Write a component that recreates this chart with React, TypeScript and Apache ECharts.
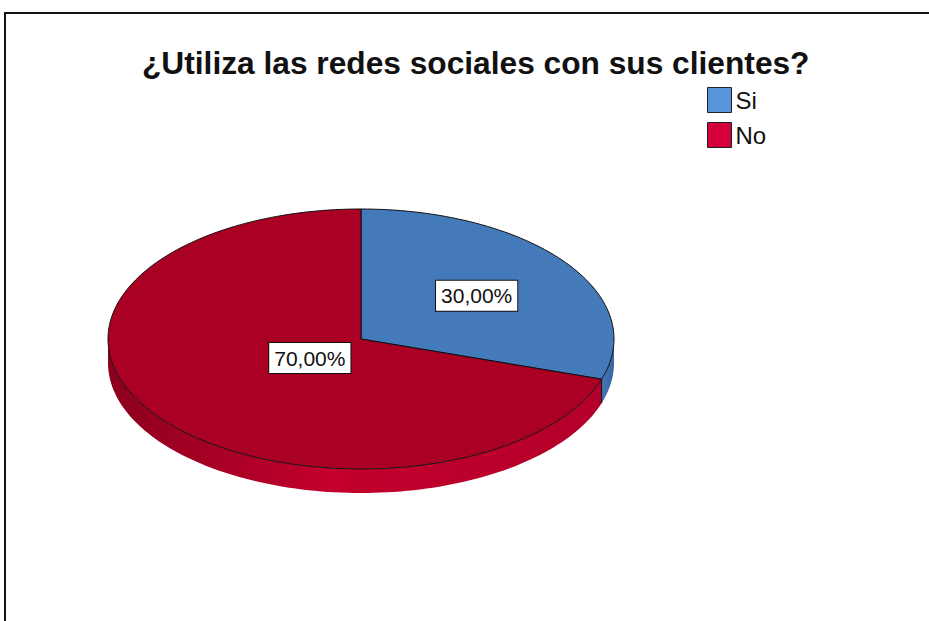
import React, { useEffect, useRef } from "react";
import * as echarts from "echarts";

const TITLE = "¿Utiliza las redes sociales con sus clientes?";
const CATEGORIES = ["Si", "No"];
const VALUES = [30, 70];
const TOP_COLORS = ["#4479ba", "#a90024"];
const LEGEND_COLORS = ["#5894dc", "#d3003a"];
const LABEL_FRAC = [0.565, 0.25];

const PIE = { cx: 361, cy: 339, rx: 253, ry: 130, depth: 24 };
const FONT = '"Liberation Sans", Arial, sans-serif';

function fmtPct(v: number, total: number) {
  return (v / total * 100).toFixed(2).replace(".", ",") + "%";
}

export default function App() {
  const ref = useRef<HTMLDivElement>(null);
  useEffect(() => {
    if (!ref.current) return;
    const chart = echarts.init(ref.current, null, { renderer: "svg" });
    const total = VALUES.reduce((a, b) => a + b, 0);
    const starts: number[] = [];
    let acc = 0;
    VALUES.forEach((v) => { starts.push(acc); acc += v; });

    const pt = (a: number, dy: number) => [
      PIE.cx + PIE.rx * Math.sin(a),
      PIE.cy - PIE.ry * Math.cos(a) + dy,
    ];
    const arc = (a0: number, a1: number, dy: number) => {
      const n = Math.max(2, Math.ceil(((a1 - a0) / (2 * Math.PI)) * 240));
      const out: number[][] = [];
      for (let i = 0; i <= n; i++) out.push(pt(a0 + ((a1 - a0) * i) / n, dy));
      return out;
    };

    const makeRender = (si: number) => (params: any, api: any) => {
      const v = api.value(0);
      const s = api.value(1);
      const a0 = (s / total) * 2 * Math.PI;
      const a1 = ((s + v) / total) * 2 * Math.PI;
      const children: any[] = [];
      const b0 = Math.max(a0, Math.PI / 2);
      const b1 = Math.min(a1, (3 * Math.PI) / 2);
      if (b1 > b0) {
        const top = arc(b0, b1, 0);
        const bot = arc(b0, b1, PIE.depth).reverse();
        const fill =
          si === 1
            ? new echarts.graphic.LinearGradient(0, 0, 1, 0, [
                { offset: 0, color: "#8c001d" },
                { offset: 0.45, color: "#c4002d" },
                { offset: 1, color: "#b3002a" },
              ])
            : new echarts.graphic.LinearGradient(0, 0, 1, 0, [
                { offset: 0, color: "#4677b5" },
                { offset: 1, color: "#3764a0" },
              ]);
        children.push({
          type: "polygon",
          z2: 1,
          shape: { points: top.concat(bot) },
          style: { fill, stroke: null },
        });
      }
      const topPts = [[PIE.cx, PIE.cy]].concat(arc(a0, a1, 0));
      children.push({
        type: "polygon",
        z2: 2,
        shape: { points: topPts },
        style: { fill: TOP_COLORS[si], stroke: "#111", lineWidth: 1 },
      });
      if (a1 < Math.PI * 1.5 && a1 > Math.PI / 2) {
        const p = pt(a1, 0);
        children.push({
          type: "line",
          z2: 3,
          shape: { x1: p[0], y1: p[1], x2: p[0], y2: p[1] + PIE.depth },
          style: { stroke: "#111", lineWidth: 1 },
        });
      }
      const mid = (a0 + a1) / 2;
      const f = LABEL_FRAC[si];
      const lx = PIE.cx + PIE.rx * Math.sin(mid) * f;
      const ly = PIE.cy - PIE.ry * Math.cos(mid) * f;
      children.push({
        type: "text",
        z2: 10,
        x: lx,
        y: ly,
        style: {
          text: fmtPct(v, total),
          align: "center",
          verticalAlign: "middle",
          fill: "#111",
          font: "21px " + FONT,
          backgroundColor: "#fff",
          borderColor: "#111",
          borderWidth: 1,
          padding: [5, 5, 4, 5],
        },
      });
      return { type: "group", children };
    };

    chart.setOption({
      animation: false,
      backgroundColor: "#fff",
      title: {
        text: TITLE,
        left: 137,
        top: 42,
        textStyle: { fontFamily: FONT, fontSize: 31.7, fontWeight: "bold", color: "#111" },
      },
      legend: {
        orient: "vertical",
        left: 707,
        top: 87,
        padding: 0,
        itemWidth: 24,
        itemHeight: 25,
        itemGap: 9,
        icon: "rect",
        itemStyle: { borderColor: "#222", borderWidth: 1 },
        textStyle: { fontFamily: FONT, fontSize: 24, color: "#111", padding: [0, 0, 0, -1] },
        data: CATEGORIES.map((c, i) => ({ name: c, itemStyle: { color: LEGEND_COLORS[i] } })),
      },
      graphic: [
        {
          type: "polyline",
          shape: { points: [[5, 700], [5, 13], [1000, 13]] },
          style: { stroke: "#111", lineWidth: 2, fill: "none" },
        },
      ],
      series: CATEGORIES.map((c, i) => ({
        type: "custom",
        name: c,
        coordinateSystem: "none",
        itemStyle: { color: LEGEND_COLORS[i] },
        data: [[VALUES[i], starts[i]]],
        renderItem: makeRender(i),
      })),
    });
    return () => chart.dispose();
  }, []);
  return (
    <div
      ref={ref}
      style={{ position: "absolute", left: 0, top: 0, width: 929, height: 621 }}
    />
  );
}
